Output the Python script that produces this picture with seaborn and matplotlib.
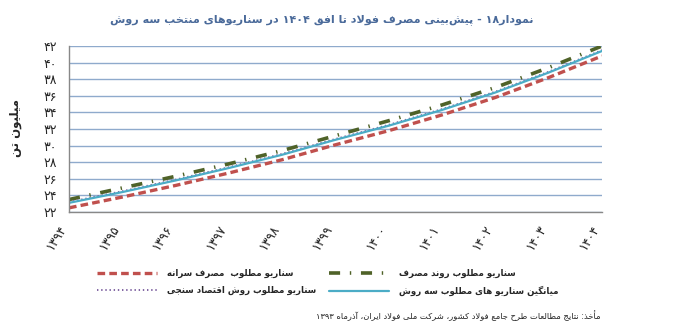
import re
import matplotlib
matplotlib.use("Agg")
import matplotlib.pyplot as plt
from matplotlib import font_manager
import seaborn as sns
import pandas as pd

# ---- data -------------------------------------------------------------
years = [1394, 1395, 1396, 1397, 1398, 1399, 1400, 1401, 1402, 1403, 1404]
per_capita = [22.5, 23.8, 25.2, 26.7, 28.3, 30.1, 31.8, 33.7, 35.8, 38.2, 40.8]
trend = [23.5, 24.9, 26.3, 27.8, 29.4, 31.2, 33.0, 34.9, 37.0, 39.4, 42.0]
econometric = [23.2, 24.5, 25.9, 27.4, 29.0, 30.8, 32.5, 34.4, 36.5, 38.9, 41.5]
average = [23.1, 24.4, 25.8, 27.3, 28.9, 30.7, 32.4, 34.3, 36.4, 38.8, 41.4]
y_ticks = [22, 24, 26, 28, 30, 32, 34, 36, 38, 40, 42]

title = "نمودار۱۸ - پیش\u200cبینی مصرف فولاد تا افق ۱۴۰۴ در سناریوهای منتخب سه روش"
y_label = "میلیون تن"
label_per_capita = "سناریو مطلوب  مصرف سرانه"
label_trend = "سناریو مطلوب روند مصرف"
label_econometric = "سناریو مطلوب روش اقتصاد سنجی"
label_average = "میانگین سناریو های مطلوب سه روش"
source = "مأخذ: نتایج مطالعات طرح جامع فولاد کشور، شرکت ملی فولاد ایران، آذرماه ۱۳۹۳"

# ---- minimal Persian shaping (presentation forms + visual order) ------
_FORMS = {
    'ا': ('\uFE8D', '\uFE8E', None, None),
    'آ': ('\uFE81', '\uFE82', None, None),
    'أ': ('\uFE83', '\uFE84', None, None),
    'ب': ('\uFE8F', '\uFE90', '\uFE91', '\uFE92'),
    'پ': ('\uFB56', '\uFB57', '\uFB58', '\uFB59'),
    'ت': ('\uFE95', '\uFE96', '\uFE97', '\uFE98'),
    'ث': ('\uFE99', '\uFE9A', '\uFE9B', '\uFE9C'),
    'ج': ('\uFE9D', '\uFE9E', '\uFE9F', '\uFEA0'),
    'چ': ('\uFB7A', '\uFB7B', '\uFB7C', '\uFB7D'),
    'ح': ('\uFEA1', '\uFEA2', '\uFEA3', '\uFEA4'),
    'خ': ('\uFEA5', '\uFEA6', '\uFEA7', '\uFEA8'),
    'د': ('\uFEA9', '\uFEAA', None, None),
    'ذ': ('\uFEAB', '\uFEAC', None, None),
    'ر': ('\uFEAD', '\uFEAE', None, None),
    'ز': ('\uFEAF', '\uFEB0', None, None),
    'ژ': ('\uFB8A', '\uFB8B', None, None),
    'س': ('\uFEB1', '\uFEB2', '\uFEB3', '\uFEB4'),
    'ش': ('\uFEB5', '\uFEB6', '\uFEB7', '\uFEB8'),
    'ص': ('\uFEB9', '\uFEBA', '\uFEBB', '\uFEBC'),
    'ض': ('\uFEBD', '\uFEBE', '\uFEBF', '\uFEC0'),
    'ط': ('\uFEC1', '\uFEC2', '\uFEC3', '\uFEC4'),
    'ظ': ('\uFEC5', '\uFEC6', '\uFEC7', '\uFEC8'),
    'ع': ('\uFEC9', '\uFECA', '\uFECB', '\uFECC'),
    'غ': ('\uFECD', '\uFECE', '\uFECF', '\uFED0'),
    'ف': ('\uFED1', '\uFED2', '\uFED3', '\uFED4'),
    'ق': ('\uFED5', '\uFED6', '\uFED7', '\uFED8'),
    'ک': ('\uFB8E', '\uFB8F', '\uFB90', '\uFB91'),
    'گ': ('\uFB92', '\uFB93', '\uFB94', '\uFB95'),
    'ل': ('\uFEDD', '\uFEDE', '\uFEDF', '\uFEE0'),
    'م': ('\uFEE1', '\uFEE2', '\uFEE3', '\uFEE4'),
    'ن': ('\uFEE5', '\uFEE6', '\uFEE7', '\uFEE8'),
    'و': ('\uFEED', '\uFEEE', None, None),
    'ه': ('\uFEE9', '\uFEEA', '\uFEEB', '\uFEEC'),
    'ی': ('\uFBFC', '\uFBFD', '\uFBFE', '\uFBFF'),
    'ئ': ('\uFE89', '\uFE8A', '\uFE8B', '\uFE8C'),
}
_LAM_ALEF = {'ا': ('\uFEFB', '\uFEFC'), 'آ': ('\uFEF5', '\uFEF6'), 'أ': ('\uFEF7', '\uFEF8')}


def _shape(text):
    out, prev_joins, i, n = [], False, 0, len(text)
    while i < n:
        c = text[i]
        if c == 'ل' and i + 1 < n and text[i + 1] in _LAM_ALEF:
            iso, fin = _LAM_ALEF[text[i + 1]]
            out.append(fin if prev_joins else iso)
            prev_joins = False
            i += 2
            continue
        if c in _FORMS:
            iso, fin, ini, med = _FORMS[c]
            nxt = text[i + 1] if i + 1 < n else ''
            forward = ini is not None and nxt in _FORMS
            if prev_joins and forward:
                out.append(med)
            elif prev_joins:
                out.append(fin)
            elif forward:
                out.append(ini)
            else:
                out.append(iso)
            prev_joins = forward
        else:
            if c != '\u200c':
                out.append(c)
            prev_joins = False
        i += 1
    return ''.join(out)


def rtl(text):
    s = _shape(text)[::-1]
    return re.sub(r'[0-9\u06F0-\u06F9]+', lambda m: m.group(0)[::-1], s)


def fa_digits(v):
    return str(v).translate(str.maketrans('0123456789', '۰۱۲۳۴۵۶۷۸۹'))


# ---- figure -----------------------------------------------------------
sns.set_theme(style="white")
plt.rcParams['font.family'] = ['DejaVu Sans']
plt.rcParams['lines.scale_dashes'] = False

# narrower face for the long Persian captions, when available
_names = {f.name for f in font_manager.fontManager.ttflist}
narrow = 'DejaVu Sans Condensed' if 'DejaVu Sans Condensed' in _names else 'DejaVu Sans'

fig = plt.figure(figsize=(6.9, 3.36), dpi=100)
ax = fig.add_axes([69 / 690, 1 - 212 / 336, (602 - 69) / 690, (212 - 46) / 336])

idx = list(range(len(years)))
df = pd.DataFrame({"idx": idx, "per_capita": per_capita, "trend": trend,
                   "econometric": econometric, "average": average})

sns.lineplot(data=df, x="idx", y="trend", ax=ax, color="#4F6228", lw=2.6,
             linestyle=(0, (8, 7, 1, 7)), label=rtl(label_trend))
sns.lineplot(data=df, x="idx", y="per_capita", ax=ax, color="#C0504D", lw=2.4,
             linestyle=(0, (5.5, 3)), label=rtl(label_per_capita))
sns.lineplot(data=df, x="idx", y="econometric", ax=ax, color="#8064A2", lw=1.4,
             linestyle=(0, (1, 2)), label=rtl(label_econometric))
sns.lineplot(data=df, x="idx", y="average", ax=ax, color="#4BACC6", lw=1.6,
             linestyle="-", label=rtl(label_average))

ax.set_xlim(0, len(years) - 1)
ax.set_ylim(y_ticks[0], y_ticks[-1])
ax.set_yticks(y_ticks)
ax.set_yticklabels([fa_digits(t) for t in y_ticks], fontsize=9)
ax.set_xticks(idx)
ax.set_xticklabels([fa_digits(y) for y in years], rotation=58, ha='right',
                   fontsize=9)
ax.set_xlabel("")
ax.set_ylabel("")
ax.grid(axis='y', color='#8FAACC', lw=1.0)
ax.grid(axis='x', visible=False)
for s in ('top', 'right'):
    ax.spines[s].set_visible(False)
for s in ('left', 'bottom'):
    ax.spines[s].set_color('#888888')
    ax.spines[s].set_linewidth(1.0)
ax.tick_params(axis='x', direction='in', length=4, color='#888888', pad=8)
ax.tick_params(axis='y', direction='out', length=3, color='#888888', pad=6)

fig.text(15 / 690, 1 - 128 / 336, rtl(y_label), rotation=90, ha='center',
         va='center', fontsize=8.5, fontweight='bold')
fig.text(322 / 690, 1 - 20 / 336, rtl(title), ha='center', va='center',
         fontsize=8.0, fontweight='bold', color='#4A6A9A', family=narrow)
fig.text(600 / 690, 1 - 316 / 336, rtl(source), ha='right', va='center',
         fontsize=6.0, family=narrow)

handles, labels = ax.get_legend_handles_labels()
order = [1, 2, 0, 3]
ax.get_legend().remove()
fig.legend([handles[i] for i in order], [labels[i] for i in order],
           ncol=2, loc='upper left', bbox_to_anchor=(91 / 690, 1 - 263 / 336),
           frameon=False,
           prop={'size': 6.2, 'weight': 'bold', 'family': narrow},
           handlelength=7.0, handletextpad=1.1, columnspacing=1.5,
           labelspacing=0.9, borderpad=0.2)

fig.savefig("out.png", dpi=100)
